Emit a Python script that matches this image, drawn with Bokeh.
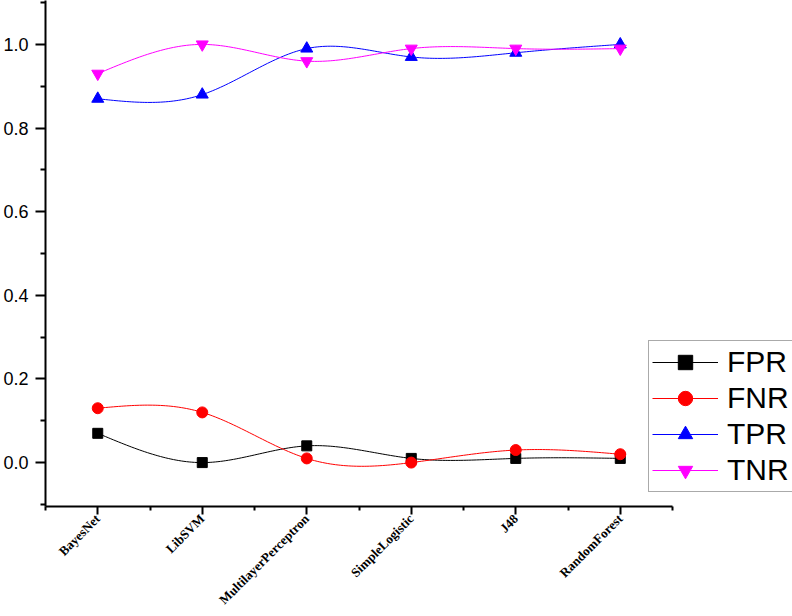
import numpy as np
from bokeh.plotting import figure
from bokeh.models import Range1d, FixedTicker, Legend, LegendItem, ColumnDataSource
from bokeh.embed import file_html
from bokeh.resources import INLINE

# ---- data ----
categories = ["BayesNet", "LibSVM", "MultilayerPerceptron", "SimpleLogistic", "J48", "RandomForest"]
fpr = [0.07, 0.00, 0.04, 0.01, 0.01, 0.01]
fnr = [0.13, 0.12, 0.01, 0.00, 0.03, 0.02]
tpr = [0.87, 0.88, 0.99, 0.97, 0.98, 1.00]
tnr = [0.93, 1.00, 0.96, 0.99, 0.99, 0.99]
y_ticks = [0.0, 0.2, 0.4, 0.6, 0.8, 1.0]
y_tick_labels = ["0.0", "0.2", "0.4", "0.6", "0.8", "1.0"]

series = [
    ("FPR", fpr, "black", "square", 10),
    ("FNR", fnr, "#FF0000", "circle", 11),
    ("TPR", tpr, "#0000FF", "triangle", 12),
    ("TNR", tnr, "#FF00FF", "inverted_triangle", 12),
]


def natural_spline(x, y, n=40):
    x = np.asarray(x, float)
    y = np.asarray(y, float)
    k = len(x)
    h = np.diff(x)
    A = np.zeros((k, k))
    b = np.zeros(k)
    A[0, 0] = 1
    A[-1, -1] = 1
    for i in range(1, k - 1):
        A[i, i - 1] = h[i - 1]
        A[i, i] = 2 * (h[i - 1] + h[i])
        A[i, i + 1] = h[i]
        b[i] = 3 * ((y[i + 1] - y[i]) / h[i] - (y[i] - y[i - 1]) / h[i - 1])
    c = np.linalg.solve(A, b)
    xs, ys = [], []
    for i in range(k - 1):
        bi = (y[i + 1] - y[i]) / h[i] - h[i] * (2 * c[i] + c[i + 1]) / 3
        di = (c[i + 1] - c[i]) / (3 * h[i])
        t = np.linspace(0, h[i], n, endpoint=(i == k - 2))
        xs.extend(x[i] + t)
        ys.extend(y[i] + bi * t + c[i] * t ** 2 + di * t ** 3)
    return xs, ys


x_idx = list(range(len(categories)))

p = figure(width=792, height=616, output_backend="svg", toolbar_location=None,
           x_range=Range1d(-0.5, 6.648), y_range=Range1d(-0.105, 1.105),
           min_border_left=45, min_border_right=0, min_border_top=0, min_border_bottom=110)
p.outline_line_color = None
p.xgrid.visible = False
p.ygrid.visible = False

items = []
for name, vals, color, marker, size in series:
    sx, sy = natural_spline(x_idx, vals)
    r_line = p.line(sx, sy, line_color=color, line_width=1)
    src = ColumnDataSource(dict(x=x_idx, y=vals))
    r_pts = p.scatter("x", "y", source=src, marker=marker, size=size,
                      fill_color=color, line_color=color)
    items.append(LegendItem(label=name, renderers=[r_line, r_pts]))

legend = Legend(items=items, location=(603, 14), margin=0, padding=3, spacing=0,
                glyph_width=66, glyph_height=36, label_height=36, label_standoff=9,
                label_text_font="Liberation Sans", label_text_font_size="30px",
                label_text_color="black", border_line_color="#555555",
                border_line_width=1, background_fill_color="white", background_fill_alpha=1)
p.add_layout(legend, "center")

# y axis
ya = p.yaxis[0]
ya.ticker = FixedTicker(ticks=y_ticks, minor_ticks=[-0.1, 0.1, 0.3, 0.5, 0.7, 0.9, 1.1])
ya.major_label_overrides = {t: l for t, l in zip(y_ticks, y_tick_labels)}
ya.axis_line_width = 2
ya.axis_line_color = "black"
ya.major_tick_line_width = 2
ya.minor_tick_line_width = 2
ya.major_tick_in = 0
ya.major_tick_out = 10
ya.minor_tick_in = 0
ya.minor_tick_out = 5
ya.major_label_text_font = "Liberation Sans"
ya.major_label_text_font_size = "18px"
ya.major_label_text_color = "black"
ya.major_label_standoff = 7

# x axis
xa = p.xaxis[0]
xa.bounds = (-0.5, 5.5)
xa.ticker = FixedTicker(ticks=x_idx, minor_ticks=[-0.5, 0.5, 1.5, 2.5, 3.5, 4.5, 5.5])
xa.major_label_overrides = {i: c for i, c in zip(x_idx, categories)}
xa.major_label_orientation = np.pi / 4
xa.axis_line_width = 2
xa.axis_line_color = "black"
xa.major_tick_line_width = 2
xa.minor_tick_line_width = 2
xa.major_tick_in = 0
xa.major_tick_out = 8
xa.minor_tick_in = 0
xa.minor_tick_out = 4
xa.major_label_text_font = "Liberation Serif"
xa.major_label_text_font_style = "bold"
xa.major_label_text_font_size = "13px"
xa.major_label_text_color = "black"
xa.major_label_standoff = 2

open("out.html", "w").write(file_html(p, INLINE))
